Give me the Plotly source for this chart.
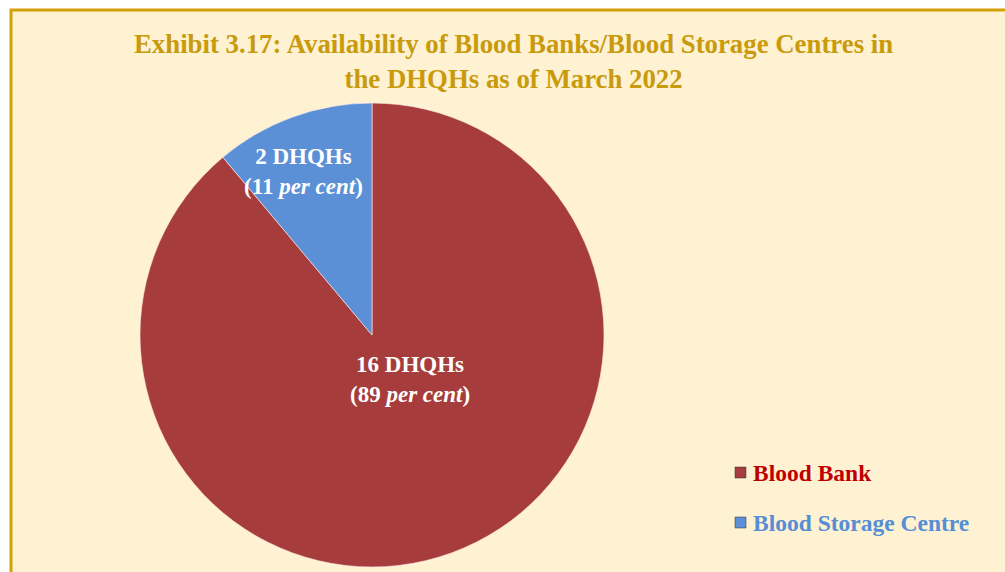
import plotly.graph_objects as go

categories = ["Blood Bank", "Blood Storage Centre"]
counts = [16, 2]
percents = [89, 11]
colors = ["#A63D3C", "#5C90D6"]
legend_colors = ["#C00000", "#558ED5"]
title_lines = ["Exhibit 3.17: Availability of Blood Banks/Blood Storage Centres in",
               "the DHQHs as of March 2022"]

W, H = 1005, 572
cx, cy, r = 372, 335, 232

fig = go.Figure()
fig.add_trace(go.Pie(
    labels=categories, values=counts, sort=False, direction="clockwise", rotation=0,
    marker=dict(colors=colors, line=dict(color="rgba(255,235,235,0.6)", width=1)),
    textinfo="none", hoverinfo="label+value+percent", showlegend=False,
    domain=dict(x=[(cx - r) / W, (cx + r) / W], y=[(H - cy - r) / H, (H - cy + r) / H]),
))

font = "Liberation Serif, Times New Roman, serif"
anns = []
# slice labels
label_pos = [(410, 379), (303, 171)]
for (x, y), n, p in zip(label_pos, counts, percents):
    anns.append(dict(x=x / W, y=1 - y / H, xref="paper", yref="paper", showarrow=False,
                     xanchor="center", yanchor="middle",
                     text=f"<b>{n} DHQHs<br>({p} <i>per cent</i>)</b>",
                     font=dict(family=font, size=23, color="white"), align="center"))
# title
anns.append(dict(x=513 / W, y=1 - 62 / H, xref="paper", yref="paper", showarrow=False,
                 xanchor="center", yanchor="middle",
                 text="<b>" + "<br>".join(title_lines) + "</b>",
                 font=dict(family=font, size=26.8, color="#C99A0C"), align="center"))
# legend
leg_y = [473, 523]
shapes = [dict(type="rect", xref="paper", yref="paper", x0=11 / W, x1=1.05, y0=-0.05, y1=1 - 10 / H,
               fillcolor="#FEF2D2", line=dict(color="#D4A00A", width=3), layer="below")]
for name, c, sc, y in zip(categories, legend_colors, colors, leg_y):
    anns.append(dict(x=751 / W, y=1 - y / H, xref="paper", yref="paper", showarrow=False,
                     xanchor="left", yanchor="middle", text=f"<b>{name}</b>",
                     font=dict(family=font, size=23.5, color=c)))
    shapes.append(dict(type="rect", xref="paper", yref="paper",
                       x0=735 / W, x1=746 / W, y0=1 - (y + 5) / H, y1=1 - (y - 6) / H,
                       fillcolor=sc, line=dict(color="#333", width=0.5)))

fig.update_layout(width=W, height=H, margin=dict(l=0, r=0, t=0, b=0),
                  paper_bgcolor="white", plot_bgcolor="white",
                  annotations=anns, shapes=shapes, showlegend=False)
fig.write_html("out.html", config={"displayModeBar": False},
               post_script="document.body.style.margin='0';")
